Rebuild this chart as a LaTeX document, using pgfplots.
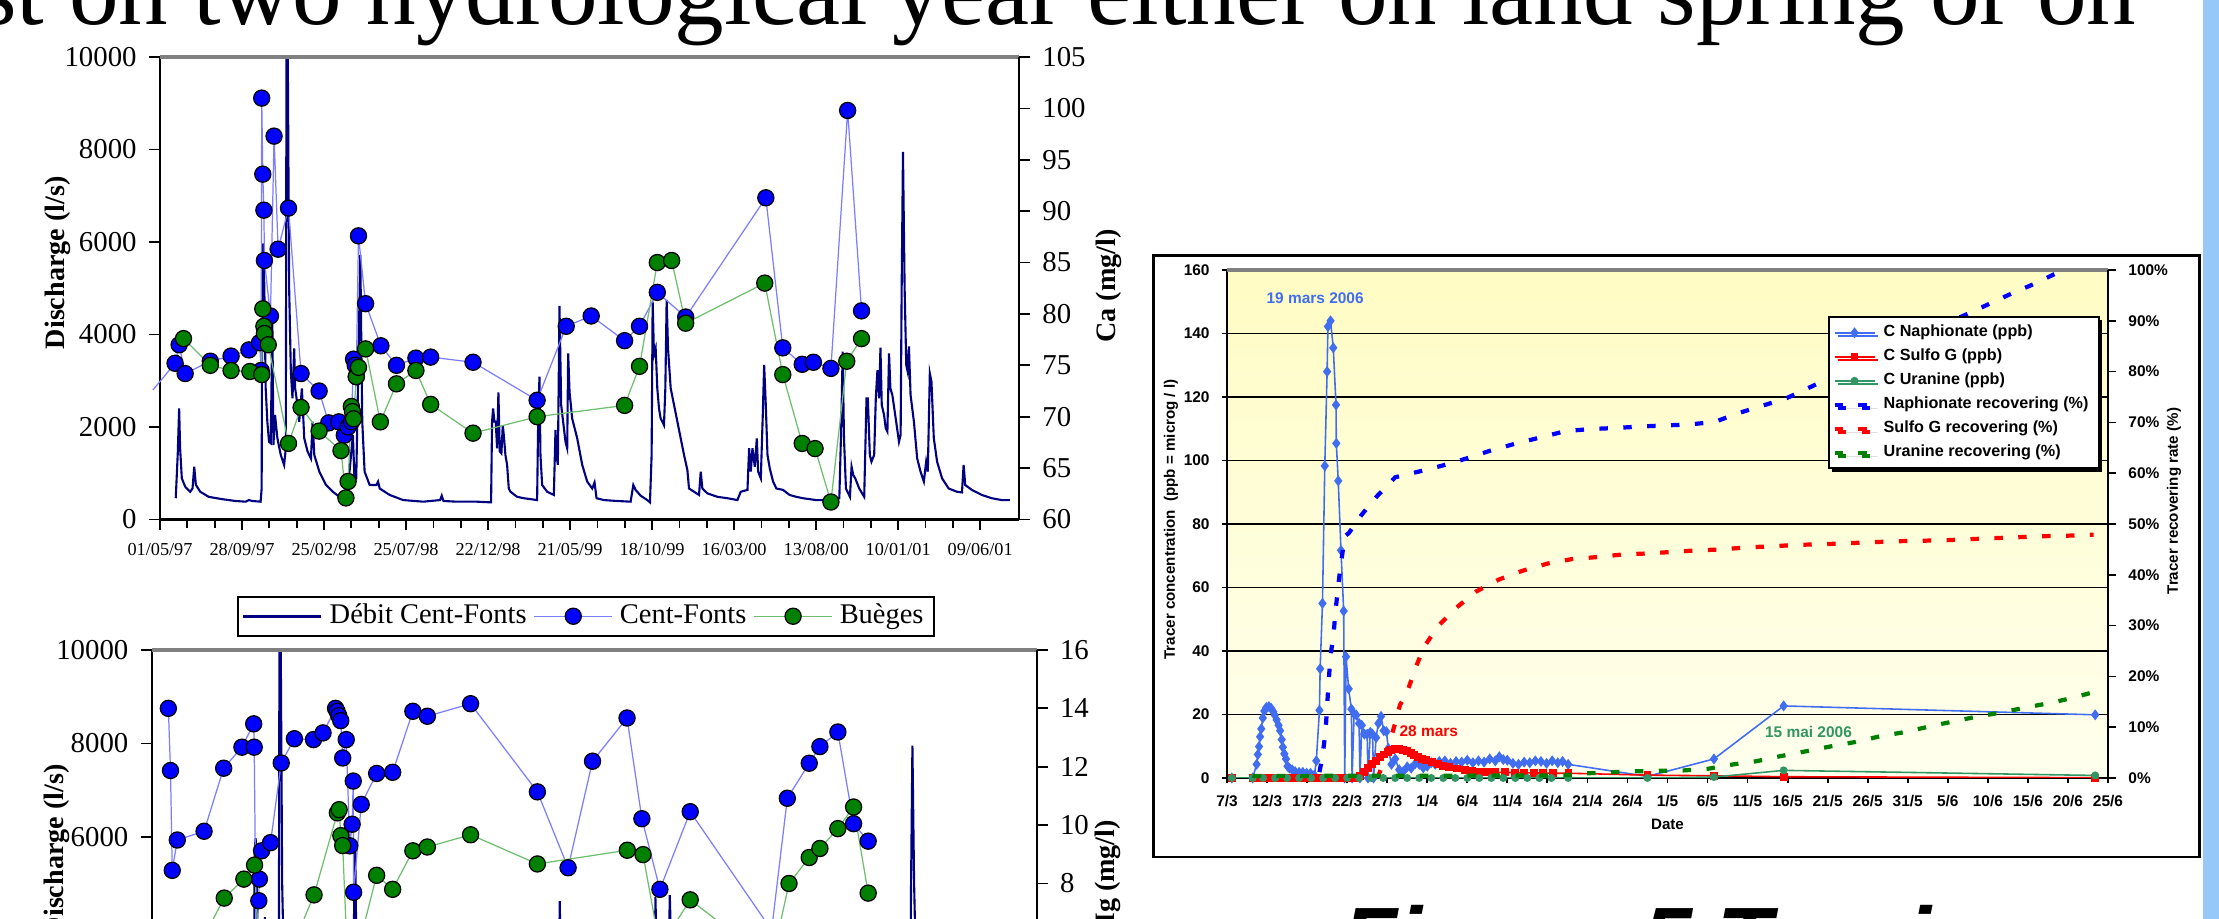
\documentclass[border=0pt]{standalone}
\usepackage{graphicx}
\usepackage{pgfplots}
\usepackage{pgfplotstable}
\pgfplotsset{compat=1.18}
\usepackage{fontspec}
\setmainfont{Liberation Serif}
\newfontfamily\arial{Liberation Sans}
\usetikzlibrary{shadows}
\definecolor{navyq}{RGB}{0,0,128}
\definecolor{cfblue}{RGB}{0,0,255}
\definecolor{cfline}{RGB}{125,125,255}
\definecolor{bggreen}{RGB}{0,128,0}
\definecolor{bgline}{RGB}{110,190,110}
\definecolor{naph}{RGB}{65,110,240}
\definecolor{uran}{RGB}{50,150,100}
\definecolor{stripe}{RGB}{150,200,250}
\definecolor{bgtop}{RGB}{255,252,196}
\definecolor{bgbot}{RGB}{255,255,238}

\pgfplotstableread{
d q
28.8 460
32.5 1430
35.0 2400
36.8 1540
39.9 890
46.0 710
55.2 600
59.5 670
62.6 1140
65.6 750
73.6 600
89.0 490
113.5 440
138.0 400
156.4 385
162.6 420
168.7 400
184.0 385
185.9 670
187.1 5720
189.0 5970
190.8 5000
193.3 2835
196.3 2115
199.4 1680
202.5 1650
205.5 4280
207.4 1610
210.4 2260
214.7 1755
220.9 1395
227.0 1180
230.1 1540
231.3 10050
233.7 10050
236.2 5000
239.3 3200
242.3 2620
245.4 3700
247.2 2835
251.5 2475
254.6 2115
259.5 2835
263.8 1755
269.9 1470
276.1 1320
279.1 2115
282.2 1395
291.4 1035
303.7 745
316.0 600
328.2 490
337.4 460
346.6 1035
352.8 1830
355.8 820
358.9 890
362.0 2835
366.3 5720
369.9 2115
374.2 1035
383.4 745
395.7 745
398.8 820
401.8 670
420.2 530
444.8 420
481.6 385
512.3 420
515.3 515
518.4 400
542.9 385
579.8 385
605.5 370
607.3 2115
609.2 2400
611.6 2115
614.0 2115
616.5 1540
618.9 2750
621.4 1470
624.4 1430
626.9 2040
628.7 1830
631.7 1395
634.8 1180
637.9 670
640.9 600
653.1 490
665.3 460
689.7 420
691.6 2115
694.0 3090
695.8 1395
698.9 745
708.1 600
720.3 530
723.3 1935
725.2 1395
727.6 1180
730.6 4620
733.7 2475
741.6 1680
744.7 1540
746.5 3590
749.0 2760
753.8 2185
763.0 1755
772.2 1180
781.3 820
790.5 670
794.7 800
798.4 460
811.8 420
836.3 400
860.7 385
865.6 745
869.8 640
879.0 515
891.2 420
896.1 370
899.1 1395
901.0 4710
903.4 3560
906.5 3700
909.5 2835
912.6 2400
915.6 2185
918.7 2115
921.7 2040
924.2 2835
926.6 4750
929.1 3700
934.0 2835
946.2 2115
958.4 1395
964.5 1070
967.5 670
976.7 600
985.8 530
988.9 1035
991.9 670
1001.1 565
1019.4 490
1037.7 460
1056.0 420
1062.1 600
1074.4 640
1077.4 1540
1080.5 1035
1083.5 1540
1087.8 1140
1091.5 1755
1093.9 1035
1098.8 890
1102.4 2260
1104.9 3340
1107.9 2475
1111.0 1395
1115.2 1105
1121.2 820
1127.3 670
1139.4 640
1151.5 530
1163.6 490
1175.8 460
1200 420
1224.2 420
1242.4 460
1246.1 2115
1248.5 3630
1250.9 1755
1254.5 670
1261.8 490
1264.8 1140
1267.9 960
1271.5 890
1278.8 670
1287.9 490
1292.1 2620
1294.5 2620
1298.2 1395
1301.2 1250
1306.1 1395
1309.1 2620
1312.1 3230
1315.2 2620
1317.6 3715
1320.0 2475
1324.2 2260
1327.3 1970
1330.3 1900
1333.3 3590
1335.8 2835
1339.4 2690
1345.5 2185
1351.5 1680
1354.5 1830
1356.4 5000
1358.8 7950
1361.8 5000
1364.8 3340
1367.3 3200
1369.7 3740
1372.7 2690
1378.8 2115
1384.8 1320
1390.9 1035
1397.0 820
1401.2 1250
1404.2 1035
1407.9 3160
1410.9 2980
1415.2 1755
1421.2 1250
1430.3 890
1442.4 670
1457.6 600
1466.7 585
1469.7 1180
1472.7 745
1484.8 640
1503.0 530
1521.2 460
1539.4 420
1554.5 420
}\discharge

\pgfplotstableread{
d ca
27.6 75.2
35 77.0
46 74.2
92 75.4
130 75.9
162.6 76.5
182 77.2
185 74.5
186 101.0
188 93.6
190 90.1
191 85.2
202 79.8
208.6 97.3
216 86.3
235 90.3
258 74.2
291 72.5
308.6 69.4
327 69.5
337 68.2
344 69.0
350 69.5
354 75.6
357 75.0
359 73.9
363 87.6
376 81.0
404 76.9
432.5 75.0
468 75.7
495 75.8
572.5 75.3
689.7 71.6
742.9 78.8
788.6 79.8
849.7 77.4
877 78.8
909.5 82.1
961.4 79.7
1108 91.3
1139 76.7
1174.5 75.1
1195 75.3
1227 74.7
1257.6 99.8
1283 80.3
}\cacf

\pgfplotstableread{
d ca
43 77.6
92 75.0
130 74.5
164.4 74.4
186 74.1
188 80.5
190 78.8
191 78.1
198 77.0
235 67.4
258 70.9
291 68.6
331 66.7
340 62.1
344 63.7
350 71.0
352 70.5
354 69.8
359 73.9
363 74.8
376 76.6
403 69.5
432.5 73.2
468 74.5
495 71.2
572.5 68.4
689.7 70.0
849.7 71.1
877 74.9
909.5 85.0
935.7 85.2
961.4 79.1
1106 83.0
1139 74.1
1174.5 67.4
1198 66.9
1227 61.7
1256 75.4
1283 77.6
}\cabg

\pgfplotstableread{
d mg
33.5 14.0
37.3 11.87
40.4 8.45
49.4 9.49
97.1 9.79
132 11.95
164.5 12.67
185.5 13.47
186.4 12.67
190 5.8
194.6 7.41
195.6 8.15
199.6 9.12
215.5 9.40
234.5 12.13
258 12.96
292 12.93
309 13.16
331.3 14.0
334 13.9
337 13.75
340.5 13.58
344 12.3
350.3 12.93
356.7 9.29
360.8 10.03
362.8 11.51
363.5 7.7
377 10.71
404.5 11.77
433 11.81
469 13.9
494.8 13.73
571.8 14.16
690.8 11.14
745.5 8.54
789 12.19
850.5 13.67
876.9 10.22
909 7.8
963 10.46
1108 6.4
1136 10.92
1175 12.12
1194 12.69
1226 13.19
1254 10.05
1280 9.45
}\mgcf

\pgfplotstableread{
d mg
43 5.6
92 6.0
133 7.5
168 8.15
187 8.63
195 5.5
258 6.0
293 7.61
334.5 10.42
337.7 10.53
340.7 9.64
344 9.3
352 5.6
377 6.2
404.5 8.28
433 7.8
469 9.12
494.8 9.25
571.8 9.67
690.8 8.67
851 9.14
879 8.99
909 5.8
963 7.44
1108 5.3
1139 8.0
1175 8.89
1194 9.2
1226 9.88
1254 10.62
1280 7.67
}\mgbg

\pgfplotstableread{
d c
0.6 0
3.2 0
3.7 4.3
3.85 7.4
4.0 9.9
4.13 13
4.28 15.5
4.47 18.9
4.66 21.1
4.9 22.2
5.24 22.5
5.53 21.9
5.77 20.9
5.96 19.8
6.2 18.3
6.44 16.6
6.63 14.9
6.83 12.1
6.97 9.7
7.16 7.6
7.36 6.0
7.55 3.7
7.79 3.1
8.13 2.6
8.51 2.0
9.0 1.8
9.47 1.8
9.95 1.5
10.43 1.5
10.91 0.9
11.15 5.4
11.54 21.3
11.63 34.4
11.92 55.0
12.21 98.3
12.5 128.0
12.6 142.2
12.93 144.0
13.27 135.5
13.61 117.5
13.65 105.4
13.89 93.6
14.23 71.7
14.57 52.6
14.7 0
14.86 38.2
15.19 28.1
15.53 21.7
15.62 0
15.87 20.2
16.15 19.8
16.49 17.2
16.6 0
16.83 16.6
17.16 13.8
17.5 13.8
17.6 0
17.89 14.4
18.17 13.8
18.3 0
18.61 12.7
18.9 17.2
19.23 19.4
19.57 14.9
19.9 14.6
20.14 9.3
20.53 4.3
21.0 6.0
21.5 2.6
22.0 2.0
22.5 3.5
23.0 3.1
23.5 4.5
24.0 4.3
24.5 3.2
25.0 3.7
25.5 4.8
26.0 4.3
26.5 5.2
27.2 5.4
27.9 4.6
28.6 5.2
29.3 5.0
30.0 5.6
30.7 4.8
31.4 5.4
32.1 5.0
32.8 6.0
33.5 5.4
34.0 6.7
34.5 5.8
35.0 5.6
35.7 4.6
36.4 4.3
37.1 5.0
37.8 4.8
38.5 5.4
39.2 5.2
39.9 4.6
40.6 5.4
41.3 4.8
41.9 5.2
42.6 4.3
52.5 0.5
60.8 6.0
69.5 22.7
108.4 19.9
}\naphc

\pgfplotstableread{
d c
0.6 0
3.2 0
4 0
5 0
6 0
7 0
8 0
9 0
10 0
11 0
12 0
13 0
14 0
15 0
16 0
16.6 0.5
17.16 2.0
17.6 3.2
18.1 4.3
18.6 5.4
19.09 6.5
19.6 7.4
20.05 8.2
20.5 8.7
21.0 9.0
21.5 9.0
21.97 8.8
22.45 8.4
22.93 7.9
23.4 7.3
23.89 6.7
24.4 6.1
24.86 5.6
25.6 4.9
26.3 4.3
27.0 3.8
27.74 3.4
28.7 3.0
29.66 2.6
30.6 2.3
31.59 2.0
32.5 1.9
33.51 1.8
34.7 1.75
35.91 1.7
37.1 1.65
38.32 1.6
39.5 1.55
40.7 1.5
42.64 1.5
52.5 0.9
60.8 0.7
69.5 0.4
108.4 0.1
}\sulfc

\pgfplotstableread{
d c
0.6 0
3.2 0
4.5 0
6 0
7.5 0
9 0
10.5 0
12 0
13.5 0
15 0
16.5 0
18 0
19.5 0
21 0
22.5 0
24 0
25.5 0
27 0
28.5 0
30 0
31.5 0
33 0
34.5 0
36 0
37.5 0
39 0
40.5 0
42.6 0
52.5 0
60.8 0.3
69.5 2.4
108.4 0.8
}\uranc

\pgfplotstableread{
d r
3.2 0
11.4 0
11.9 4.1
12.3 9.0
12.6 16.7
12.9 23.7
13.3 28.3
13.6 33.6
13.9 38.1
14.3 43.0
14.7 47.6
15.2 48.2
16.8 51.8
18.75 55.5
21.0 59.2
23.9 60.3
26.9 61.5
29.9 62.9
33.0 64.5
36.2 65.9
39.3 67.1
42.3 68.3
45.5 68.7
48.6 68.9
51.7 69.2
54.7 69.4
57.8 69.6
60.9 70.1
63.8 71.8
66.9 73.3
69.9 74.8
72.9 77.0
76 79.3
80 82.3
84 85.3
88 88.3
92.1 91.1
95 93.2
98 95.4
101 97.4
103.7 99.5
105 100.5
}\naphr

\pgfplotstableread{
d r
18.8 0
19.5 3.0
20.3 7.0
21.0 10.8
21.6 14.4
22.4 16.5
23.5 21.5
24.6 25.8
26.4 30.0
28.7 33.6
31.1 36.7
34.0 39.1
36.9 40.8
40.0 42.2
43.1 43.1
46.3 43.5
49.4 44.0
52.5 44.2
55.6 44.5
58.5 44.8
61.9 45.0
64.8 45.4
68.0 45.6
71.2 45.9
74.2 46.0
77.2 46.2
80.4 46.4
83.4 46.6
86.6 46.7
89.6 46.8
92.6 47.0
95.6 47.2
98.8 47.4
102.0 47.6
105.0 47.7
108.2 47.9
}\sulfr

\pgfplotstableread{
d r
3.2 0.4
42.0 0.5
44.6 0.9
47.5 1.1
50.6 1.3
53.7 1.4
57.1 1.5
60.0 1.8
63.3 2.7
66.1 3.3
69.1 4.3
72.1 5.2
75.3 6.2
78.5 7.1
81.5 8.2
84.5 9.0
87.6 10.1
90.6 11.1
93.7 12.1
96.7 12.9
99.8 13.9
102.9 14.8
105.9 15.9
108.4 17.0
}\uranr

\pgfplotsset{
  leftchart/.style={
    scale only axis, anchor=south west,
    axis line style={black, line width=0.6pt},
    tick style={black, line width=0.5pt},
    tick align=outside,
    major tick length=0.11cm, minor tick length=0.09cm,
    scaled ticks=false,
    /pgf/number format/assume math mode=true,
    /pgf/number format/1000 sep={},
    yticklabel style={font=\fontsize{8.2}{9}\selectfont},
    xticklabel style={font=\fontsize{5.2}{6}\selectfont},
    label style={font=\fontsize{8}{9}\selectfont\bfseries},
  },
  cfstyle/.style={cfline, line width=0.35pt, mark=*, mark size=2.3pt,
    mark options={solid, fill=cfblue, draw=black, line width=0.35pt}},
  bgstyle/.style={bgline, line width=0.35pt, mark=*, mark size=2.3pt,
    mark options={solid, fill=bggreen, draw=black, line width=0.35pt}},
  rightchart/.style={
    scale only axis, anchor=south west,
    axis line style={black, line width=0.6pt},
    tick style={black, line width=0.5pt},
    tick align=outside,
    major tick length=0.05cm,
    /pgf/number format/assume math mode=true,
    tick label style={font=\arial\bfseries\fontsize{4.4}{5}\selectfont},
    label style={font=\arial\bfseries\fontsize{4.3}{5}\selectfont},
  },
}

\begin{document}
\begin{tikzpicture}
\path[use as bounding box] (0,0) rectangle (22.19,-9.19);
\begin{scope}
\clip (0,0) rectangle (22.19,-9.19);
\fill[white] (0,0) rectangle (22.19,-9.19);

% heading line (its upper part is cut off by the top edge)
\node[anchor=base east, inner sep=0pt, font=\fontsize{28.2}{30}\selectfont] at (21.37,-0.25)
  {st on two hydrological year either on land spring or on};

% ---------------- Chart 1 ----------------
\begin{axis}[leftchart,
  at={(1.60cm,-5.195cm)}, width=8.59cm, height=4.625cm,
  xmin=0, xmax=1571, ymin=0, ymax=10000,
  axis x line*=bottom, axis y line*=left,
  ytick={0,2000,...,10000},
  xtick={0,150,...,1500},
  xticklabels={01/05/97,28/09/97,25/02/98,25/07/98,22/12/98,21/05/99,18/10/99,16/03/00,13/08/00,10/01/01,09/06/01},
  minor x tick num=2,
  ylabel={Discharge (l/s)},
  ylabel style={at={(axis description cs:-0.119,0.555)}, anchor=center},
  after end axis/.code={\draw[gray, line width=0.9pt] (rel axis cs:0,1) -- (rel axis cs:1,1);},
]
\addplot[navyq, line width=0.6pt] table[x=d, y=q] {\discharge};
\end{axis}
\begin{axis}[leftchart,
  at={(1.60cm,-5.195cm)}, width=8.59cm, height=4.625cm,
  xmin=0, xmax=1571, ymin=60, ymax=105,
  axis y line*=right, axis x line=none,
  ytick={60,65,...,105},
  clip=false,
  ylabel={Ca (mg/l)},
  ylabel style={at={(axis description cs:1.104,0.505)}, anchor=center},
  legend style={at={(0.496,-0.165)}, anchor=north, legend columns=-1, draw=black, line width=0.5pt,
    fill=white, font=\fontsize{8.1}{9}\selectfont, inner xsep=1pt, inner ysep=0pt,
    /tikz/every even column/.append style={column sep=0pt}},
  legend image code/.code={\draw[mark repeat=2,mark phase=2,#1] plot coordinates {(0cm,0cm) (0.39cm,0cm) (0.78cm,0cm)};},
]
\addlegendimage{navyq, line width=0.9pt}
\addlegendentry{Débit Cent-Fonts}
\addplot[cfline, line width=0.35pt, forget plot] coordinates {(-13,72.6) (27.6,75.2)};
\addplot[cfstyle] table[x=d, y=ca] {\cacf};
\addlegendentry{Cent-Fonts}
\addplot[bgstyle] table[x=d, y=ca] {\cabg};
\addlegendentry{Buèges}
\end{axis}

% ---------------- Chart 2 ----------------
\begin{axis}[leftchart,
  at={(1.518cm,-11.17cm)}, width=8.848cm, height=4.67cm,
  xmin=4, xmax=1580, ymin=0, ymax=10000,
  axis x line*=bottom, axis y line*=left,
  ytick={0,2000,...,10000},
  xtick={4,154,...,1504}, xticklabels={},
  ylabel={Discharge (l/s)},
  ylabel style={at={(axis description cs:-0.107,0.57)}, anchor=center},
  after end axis/.code={\draw[gray, line width=0.9pt] (rel axis cs:0,1) -- (rel axis cs:1,1);},
]
\addplot[navyq, line width=0.6pt] table[x=d, y=q] {\discharge};
\end{axis}
\begin{axis}[leftchart,
  at={(1.518cm,-11.17cm)}, width=8.848cm, height=4.67cm,
  xmin=4, xmax=1580, ymin=0, ymax=16,
  axis y line*=right, axis x line=none,
  ytick={0,2,...,16},
  ylabel={Mg (mg/l)},
  ylabel style={at={(axis description cs:1.08,0.508)}, anchor=center},
]
\addplot[cfstyle] table[x=d, y=mg] {\mgcf};
\addplot[bgstyle] table[x=d, y=mg] {\mgbg};
\end{axis}

% ---------------- Chart 3 ----------------
\draw[black, line width=0.85pt, fill=white] (11.53,-2.56) rectangle (21.99,-8.57);
\begin{axis}[rightchart,
  at={(12.27cm,-7.78cm)}, width=8.81cm, height=5.08cm,
  xmin=0, xmax=110, ymin=0, ymax=160,
  axis x line*=bottom, axis y line*=left,
  ytick={0,20,...,160},
  xtick={0,5,...,110},
  xticklabels={7/3,12/3,17/3,22/3,27/3,1/4,6/4,11/4,16/4,21/4,26/4,1/5,6/5,11/5,16/5,21/5,26/5,31/5,5/6,10/6,15/6,20/6,25/6},
  ymajorgrids, major grid style={black, line width=0.45pt},
  axis background/.style={top color=bgtop, bottom color=bgbot},
  xlabel={Date},
  xlabel style={at={(axis description cs:0.5,-0.0906)}, anchor=center},
  ylabel={Tracer concentration~~(ppb = microg / l)},
  ylabel style={at={(axis description cs:-0.0636,0.509)}, anchor=center},
  after end axis/.code={\draw[gray, line width=0.9pt] (rel axis cs:0,1) -- (rel axis cs:1,1);},
]
\addplot[naph, line width=0.45pt, mark=diamond*, mark size=1.2pt, mark options={fill=naph, draw=naph}] table[x=d, y=c] {\naphc};
\addplot[red, line width=0.45pt, mark=square*, mark size=0.9pt, mark options={fill=red, draw=red}] table[x=d, y=c] {\sulfc};
\addplot[uran, line width=0.45pt, mark=*, mark size=0.9pt, mark options={fill=uran, draw=uran}] table[x=d, y=c] {\uranc};
\node[text=naph, font=\arial\bfseries\fontsize{4.4}{5}\selectfont] at (axis cs:11.0,151.2) {19 mars 2006};
\node[text=red, font=\arial\bfseries\fontsize{4.4}{5}\selectfont] at (axis cs:25.2,14.6) {28 mars};
\node[text=uran, font=\arial\bfseries\fontsize{4.4}{5}\selectfont] at (axis cs:72.6,14.6) {15 mai 2006};
\end{axis}
\begin{axis}[rightchart,
  at={(12.27cm,-7.78cm)}, width=8.81cm, height=5.08cm,
  xmin=0, xmax=110, ymin=0, ymax=100,
  axis y line*=right, axis x line=none,
  major tick length=0.08cm,
  ytick={0,10,...,100},
  yticklabels={0\%,10\%,20\%,30\%,40\%,50\%,60\%,70\%,80\%,90\%,100\%},
  ylabel={Tracer recovering rate (\%)},
  ylabel style={at={(axis description cs:1.075,0.545)}, anchor=center},
  legend cell align=left,
  legend style={at={(0.682,0.909)}, anchor=north west, draw=black, line width=0.6pt, fill=white,
    font=\arial\bfseries\fontsize{4.6}{5}\selectfont, row sep=0pt, inner xsep=1pt, inner ysep=1pt,
    nodes={inner ysep=1.0pt},
    drop shadow={shadow xshift=0.9pt, shadow yshift=-0.9pt, opacity=1, fill=black}},
  legend image code/.code={\draw[mark repeat=2,mark phase=2,#1] plot coordinates {(0cm,0cm) (0.2cm,0cm) (0.4cm,0cm)};},
]
\addlegendimage{naph, line width=0.45pt, mark=diamond*, mark size=1.2pt, mark options={fill=naph, draw=naph}}
\addlegendentry{C Naphionate (ppb)}
\addlegendimage{red, line width=0.45pt, mark=square*, mark size=0.9pt, mark options={fill=red, draw=red}}
\addlegendentry{C Sulfo G (ppb)}
\addlegendimage{uran, line width=0.45pt, mark=*, mark size=0.9pt, mark options={fill=uran, draw=uran}}
\addlegendentry{C Uranine (ppb)}
\addplot[blue, line width=1.2pt, dash pattern=on 2.4pt off 4.4pt] table[x=d, y=r] {\naphr};
\addlegendentry{Naphionate recovering (\%)}
\addplot[red, line width=1.2pt, dash pattern=on 2.4pt off 4.4pt] table[x=d, y=r] {\sulfr};
\addlegendentry{Sulfo G recovering (\%)}
\addplot[bggreen, line width=1.2pt, dash pattern=on 2.4pt off 4.4pt] table[x=d, y=r] {\uranr};
\addlegendentry{Uranine recovering (\%)}
\end{axis}

% caption (only the tops of its capitals show at the bottom edge)
\node[anchor=base west, inner sep=0pt, font=\arial\bfseries\itshape\fontsize{25.6}{28}\selectfont] at (13.42,-9.71) {Figure 5 Tracing};

% right stripe
\fill[stripe] (22.03,0) rectangle (22.19,-9.19);
\end{scope}
\end{tikzpicture}
\end{document}
